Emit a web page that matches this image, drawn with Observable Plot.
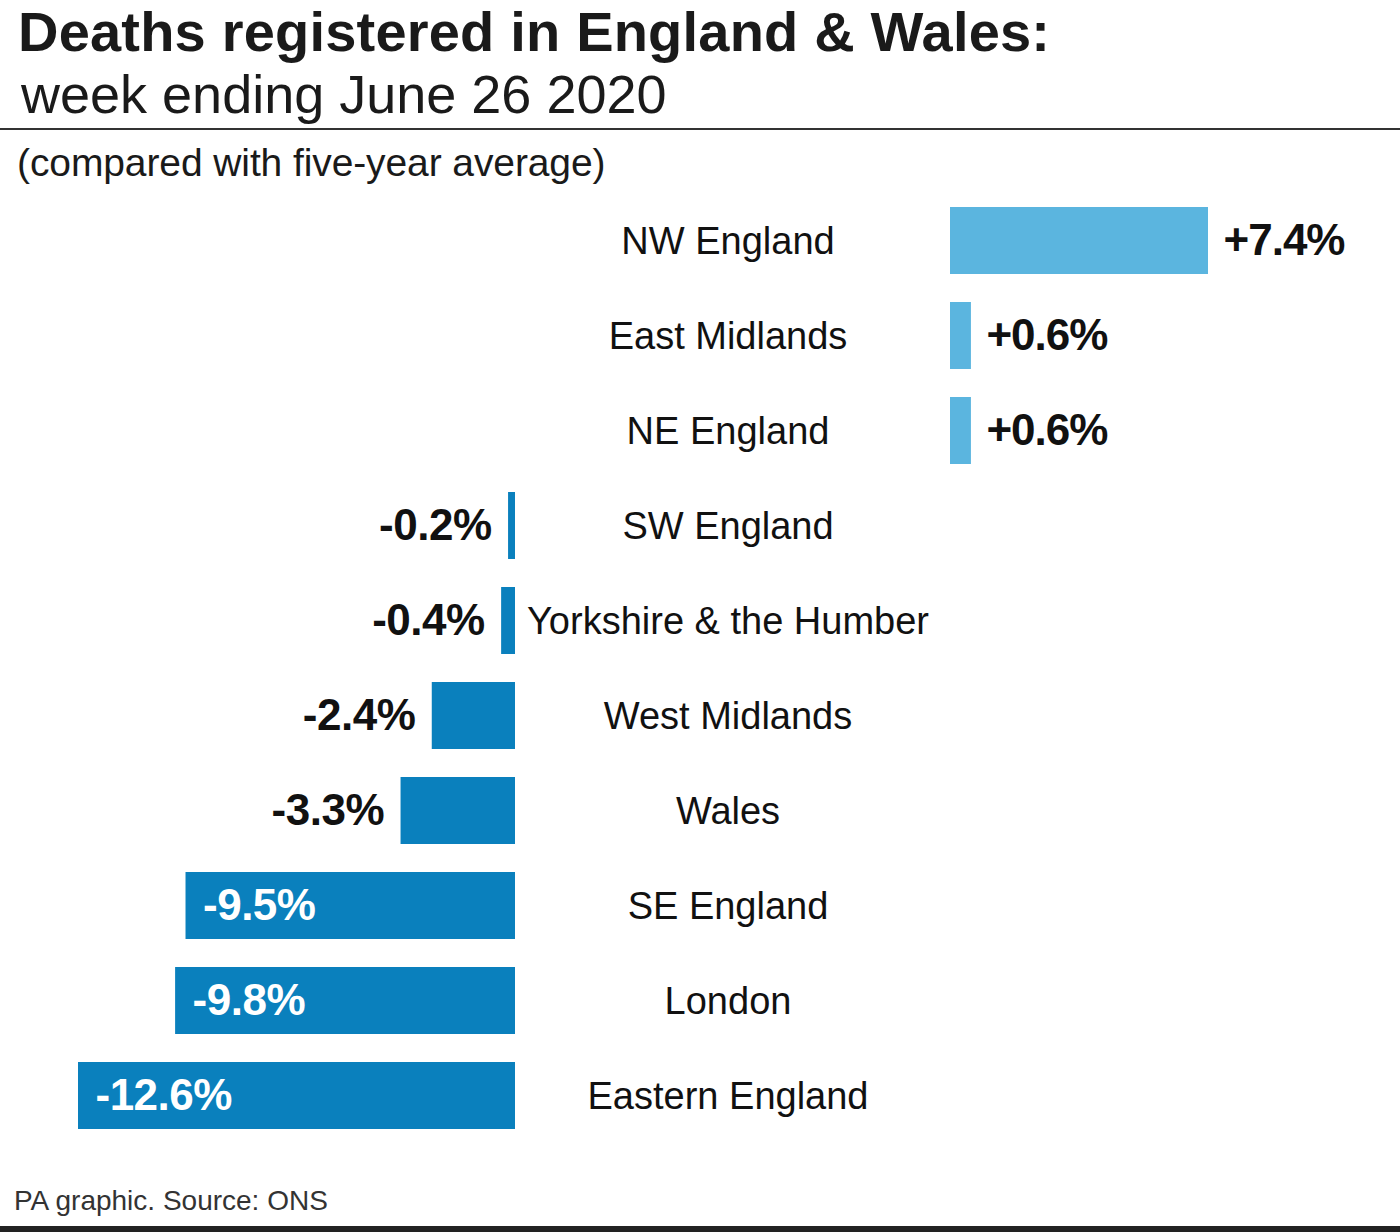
<!DOCTYPE html>
<html><head><meta charset="utf-8">
<script src="https://cdn.jsdelivr.net/npm/d3@7"></script>
<script src="https://cdn.jsdelivr.net/npm/@observablehq/plot@0.6"></script>
<style>
body{margin:0;background:#fff;}
#page{position:relative;width:1400px;height:1232px;overflow:hidden;font-family:"Liberation Sans",Arial,sans-serif;color:#1a1a1a;background:#fff;}
.t{position:absolute;white-space:nowrap;line-height:1;}
#title{left:18px;top:4px;font-size:56px;font-weight:bold;letter-spacing:0.2px;}
#subtitle{left:21px;top:67px;font-size:54px;letter-spacing:0px;}
#rule1{position:absolute;left:0;top:128px;width:1400px;height:2px;background:#333;}
#note{left:17px;top:143px;font-size:39px;letter-spacing:-0.1px;}
#footer{left:14px;top:1187px;font-size:28px;color:#333;letter-spacing:0px;}
#rule2{position:absolute;left:0;top:1226px;width:1400px;height:6px;background:#222;}
#chart{position:absolute;left:0;top:192.5px;display:flex;}
#chart svg{display:block;overflow:visible;}
</style></head>
<body>
<div id="page">
  <div class="t" id="title">Deaths registered in England &amp; Wales:</div>
  <div class="t" id="subtitle">week ending June 26 2020</div>
  <div id="rule1"></div>
  <div class="t" id="note">(compared with five-year average)</div>
  <div id="chart"></div>
  <div class="t" id="footer">PA graphic. Source: ONS</div>
  <div id="rule2"></div>
</div>
<script>
const regions = ["NW England","East Midlands","NE England","SW England","Yorkshire & the Humber","West Midlands","Wales","SE England","London","Eastern England"];
const changes = [7.4, 0.6, 0.6, -0.2, -0.4, -2.4, -3.3, -9.5, -9.8, -12.6];
const valueLabels = ["+7.4%","+0.6%","+0.6%","-0.2%","-0.4%","-2.4%","-3.3%","-9.5%","-9.8%","-12.6%"];

const POS = "#5bb5df";
const NEG = "#0a80bd";
const INK = "#111";

const data = regions.map((r, i) => ({region: r, value: changes[i], label: valueLabels[i]}));
const neg = data.filter(d => d.value < 0);
const pos = data.filter(d => d.value > 0);

const common = {
  height: 950, marginTop: 0, marginBottom: 0,
  y: {axis: null, domain: regions, paddingInner: 0.3, paddingOuter: 0.15},
};
const baseStyle = {fontFamily: "'Liberation Sans', Arial, sans-serif", background: "transparent", overflow: "visible"};

const left = Plot.plot({
  ...common,
  width: 520, marginLeft: 78, marginRight: 5,
  x: {axis: null},
  style: {...baseStyle, letterSpacing: "-0.5px"},
  marks: [
    Plot.barX(neg, {x1: 0, x2: "value", y: "region", fill: NEG}),
    Plot.text(neg.filter(d => d.value > -5), {x: "value", y: "region", text: "label", textAnchor: "end", dx: -17, fontSize: 44, fontWeight: "bold", fill: INK}),
    Plot.text(neg.filter(d => d.value <= -5), {x: "value", y: "region", text: "label", textAnchor: "start", dx: 17, fontSize: 44, fontWeight: "bold", fill: "#fff"})
  ]
});

const middle = Plot.plot({
  ...common,
  width: 415, marginLeft: 0, marginRight: 0,
  style: {...baseStyle, letterSpacing: "0px"},
  marks: [
    Plot.text(data, {y: "region", text: "region", fontSize: 38, fill: INK})
  ]
});

const right = Plot.plot({
  ...common,
  width: 465, marginLeft: 15, marginRight: 192,
  x: {axis: null},
  style: {...baseStyle, letterSpacing: "-1px"},
  marks: [
    Plot.barX(pos, {x1: 0, x2: "value", y: "region", fill: POS}),
    Plot.text(pos, {x: "value", y: "region", text: "label", textAnchor: "start", dx: 15, fontSize: 44, fontWeight: "bold", fill: INK})
  ]
});

const chart = document.getElementById("chart");
chart.append(left, middle, right);
</script>
</body></html>
